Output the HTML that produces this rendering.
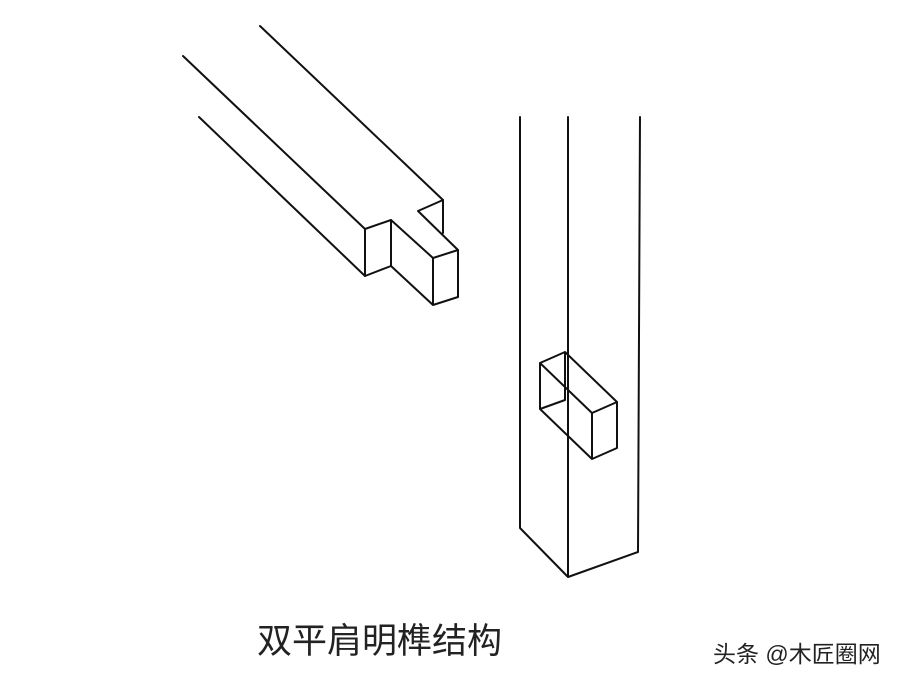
<!DOCTYPE html>
<html><head><meta charset="utf-8"><style>
body{margin:0;background:#fff;width:900px;height:683px;overflow:hidden;position:relative}
svg{position:absolute;left:0;top:0}
.t{position:absolute;font-family:"Liberation Sans","Noto Sans CJK SC",sans-serif;white-space:nowrap}
</style></head><body>
<svg width="900" height="683" viewBox="0 0 900 683" fill="none" stroke="#111" stroke-width="2" stroke-linejoin="round" stroke-linecap="round">
<path d="M260 26L443 200M183 56L365 229M199 117L365 276"/>
<path d="M365 229V276L391 266V220L365 229"/>
<path d="M391 220L433 258L458 250M433 258V305L458 297V250M391 266L433 305"/>
<path d="M443 200V233M418 211L443 200M418 211L458 250"/>
<path d="M520 117V528L568 577L638 552L640 117M568 117V577"/>
<path d="M540 363L565 352L617 402L592 413L540 363ZM540 363V409L592 459L617 448V402M592 413V459M540 409L565 400V352"/>
</svg>
<div class="t" style="left:257px;top:613px;font-size:35px;color:#222">双平肩明榫结构</div>
<div class="t" style="left:713px;top:635px;font-size:23px;color:#222;text-shadow:1px 1px 0 #fff">头条 @木匠圈网</div>
</body></html>
